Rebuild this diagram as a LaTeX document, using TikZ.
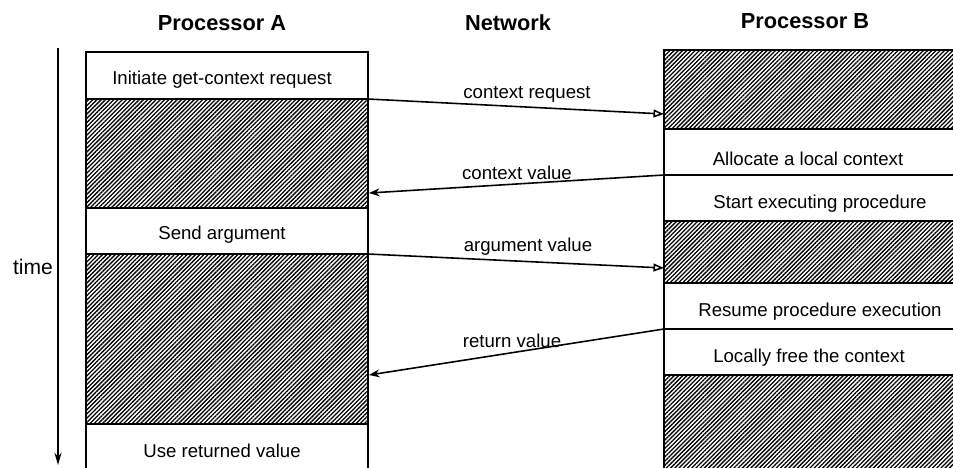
\documentclass[tikz,border=0pt]{standalone}
\usepackage{fontspec}
\setmainfont{Liberation Sans}
\usetikzlibrary{patterns.meta,arrows.meta}

\tikzset{
  head/.style={font=\fontsize{12.4}{14}\selectfont\bfseries},
  lbl/.style={font=\fontsize{10.6}{12}\selectfont},
  hatched/.style={draw=none,pattern={Lines[angle=45,distance=1.7pt,line width=0.75pt]}},
  sendarr/.style={line width=0.9pt,-{Triangle[open,length=6pt,width=4.5pt]}},
  backarr/.style={line width=0.9pt,-{Stealth[length=6pt,width=4.5pt]}}
}

\begin{document}
\begin{tikzpicture}[x=0.02cm,y=-0.02cm,line width=1pt]
\useasboundingbox (0,0) rectangle (953,467);

%draw headings
\draw (222,23) node[head,name=hA] {Processor A};
\draw (508,23) node[head,name=hN] {Network};
\draw (805,21) node[head,name=hB] {Processor B};

%draw time axis
\coordinate (t0) at (58,48);
\coordinate (t1) at (58,465);
\draw[line width=0.9pt,-{Stealth[length=7pt,width=4pt]}] (t0) -- (t1);
\draw (33,267) node[lbl,font=\fontsize{12}{14}\selectfont,name=time] {time};

%hatched blocks
\foreach \t/\b in {99/208,254/424}{
   \fill[hatched] (86,\t) rectangle (368,\b);
}
\foreach \t/\b in {50/129,221/283,375/475}{
   \fill[hatched] (664,\t) rectangle (960,\b);
}

%draw processor A column
\draw (86,475) -- (86,52) -- (368,52) -- (368,475);
\foreach \y in {99,208,254,424}{
   \draw (86,\y) -- (368,\y);
}

%draw processor B column
\draw (960,50) -- (664,50) -- (664,475);
\foreach \y in {129,175,221,283,329,375}{
   \draw (664,\y) -- (960,\y);
}

%draw nodes
\draw (222,80) node[lbl,name=initA] {Initiate get-context request};
\draw (222,235) node[lbl,name=sendA] {Send argument};
\draw (222,451) node[lbl,name=useA] {Use returned value};
\draw (808,159) node[lbl,name=allocB] {Allocate a local context};
\draw (820,204) node[lbl,name=startB] {Start executing procedure};
\draw (820,312) node[lbl,name=resumeB] {Resume procedure execution};
\draw (809,358) node[lbl,name=freeB] {Locally free the context};

%draw messages
\coordinate (reqA) at (368,99);  \coordinate (reqB) at (664,114);
\coordinate (valB) at (664,175); \coordinate (valA) at (369,193);
\coordinate (argA) at (368,254); \coordinate (argB) at (664,268);
\coordinate (retB) at (664,329); \coordinate (retA) at (369,375);

\draw[sendarr] (reqA) -- (reqB);
\draw[backarr] (valB) -- (valA);
\draw[sendarr] (argA) -- (argB);
\draw[backarr] (retB) -- (retA);

\draw (527,94) node[lbl,name=lreq] {context request};
\draw (517,173) node[lbl,name=lval] {context value};
\draw (528,247) node[lbl,name=larg] {argument value};
\draw (512,341) node[lbl,name=lret] {return value};
\end{tikzpicture}
\end{document}
